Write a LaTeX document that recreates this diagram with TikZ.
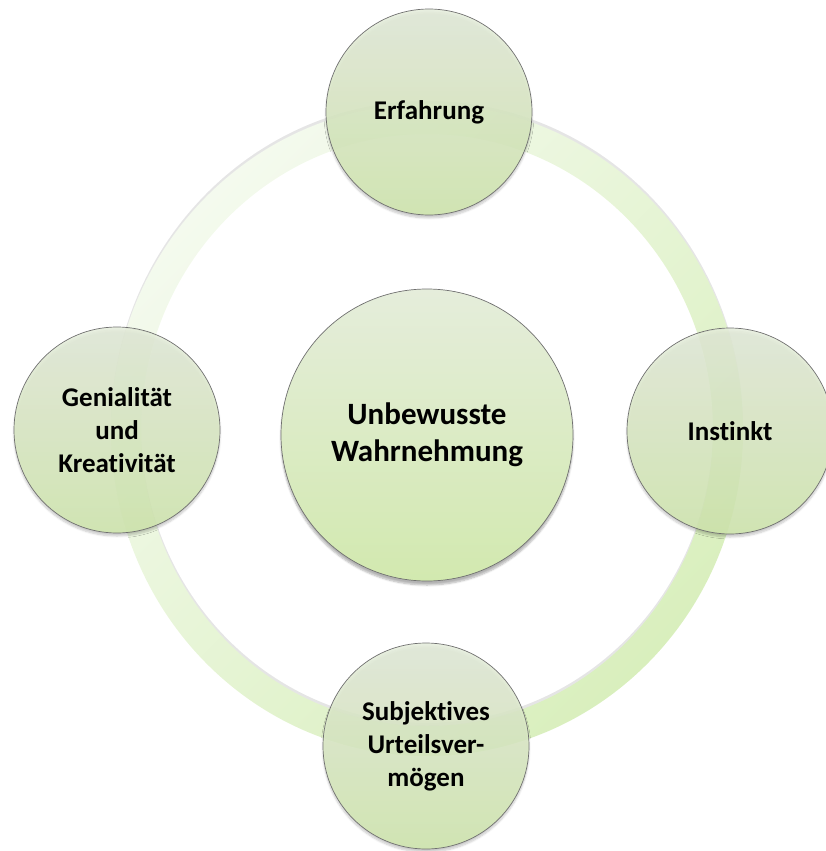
\documentclass[tikz,border=0pt]{standalone}
\usepackage{fontspec}
\setmainfont{Carlito}[Ligatures=NoCommon]
\usetikzlibrary{shadows.blur}
\definecolor{ringlight}{HTML}{F4FAEE}
\definecolor{ringdark}{HTML}{D9EFBD}
\definecolor{balltop}{HTML}{E5EDDB}
\definecolor{ballbottom}{HTML}{D2E9AF}
\definecolor{balledge}{HTML}{707070}
\begin{document}
\begin{tikzpicture}[x=1pt,y=-1pt,
  ball/.style={circle, draw=balledge, line width=0.7pt, inner sep=0pt,
    top color=balltop, bottom color=ballbottom, align=center,
    text=black, font=\bfseries},
  satellite/.style={ball, minimum size=206pt, fill opacity=0.85, text opacity=1,
    font=\fontsize{27}{33}\selectfont\bfseries,
    blur shadow={shadow xshift=0pt, shadow yshift=-3pt, shadow opacity=25, shadow blur steps=6}},
  hub/.style={ball, minimum size=292pt,
    font=\fontsize{31}{37}\selectfont\bfseries,
    blur shadow={shadow xshift=0pt, shadow yshift=-4pt, shadow opacity=30, shadow blur steps=6}},
  ringband/.style={even odd rule, left color=ringlight, right color=ringdark, shading angle=45}
]
\useasboundingbox (0,0) rectangle (826,851);

% the cycle ring behind the satellites, with a soft shadow under it
\coordinate (ringc) at (427,430);
\path[even odd rule, fill=black!40, opacity=0.25]
  ([yshift=3pt]ringc) ellipse [x radius=316, y radius=326]
  ([yshift=3pt]ringc) ellipse [x radius=286, y radius=296];
\path[ringband]
  (ringc) ellipse [x radius=316, y radius=326]
  (ringc) ellipse [x radius=286, y radius=296];

% central circle
\node[hub] (hub) at (427,435) {Unbewusste\\Wahrnehmung};

% satellites on the ring
\node[satellite] (top)    at (429,112) {Erfahrung};
\node[satellite] (right)  at (730,431) {Instinkt};
\node[satellite] (left)   at (117,430) {Genialität\\und\\Kreativität};
\node[satellite] (bottom) at (426,746) {Subjektives\\Urteilsver-\\mögen};
\end{tikzpicture}
\end{document}
